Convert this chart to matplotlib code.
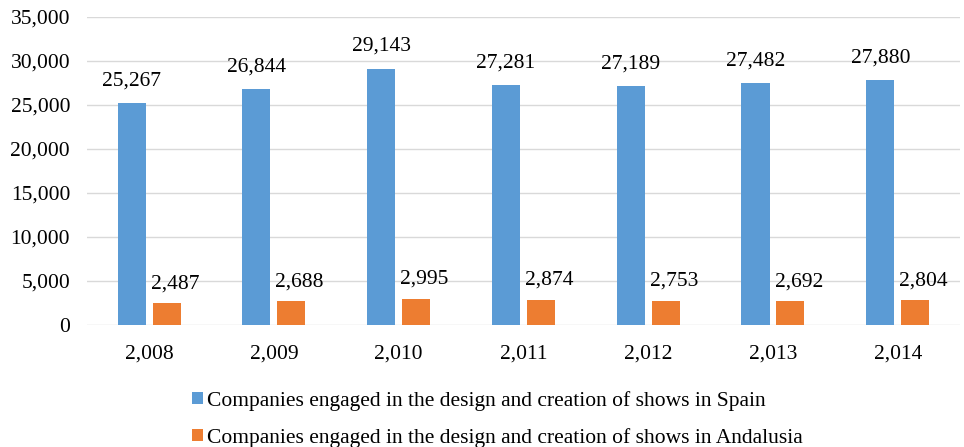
import matplotlib.pyplot as plt
import numpy as np

years = ['2,008', '2,009', '2,010', '2,011', '2,012', '2,013', '2,014']
spain = [25267, 26844, 29143, 27281, 27189, 27482, 27880]
andalusia = [2487, 2688, 2995, 2874, 2753, 2692, 2804]

plt.rcParams['font.family'] = ['Liberation Serif', 'DejaVu Serif']
fs = 15.5

fig = plt.figure(figsize=(9.64, 4.47), dpi=100)
ax = fig.add_axes([0.090, 0.273, 0.906, 0.689])

x = np.arange(len(years))
w = 0.225
b1 = ax.bar(x - 0.14, spain, w, color='#5B9BD5',
            label='Companies engaged in the design and creation of shows in Spain')
b2 = ax.bar(x + 0.14, andalusia, w, color='#ED7D31',
            label='Companies engaged in the design and creation of shows in Andalusia')

for rect, v in zip(b1, spain):
    ax.annotate(f'{v:,}', (rect.get_x() + rect.get_width() / 2, v),
                xytext=(0, 9), textcoords='offset points',
                ha='center', va='bottom', fontsize=fs)
for rect, v in zip(b2, andalusia):
    ax.annotate(f'{v:,}', (rect.get_x() + rect.get_width() / 2, v),
                xytext=(6, 7), textcoords='offset points',
                ha='center', va='bottom', fontsize=fs)

ax.set_xlim(-0.5, len(years) - 0.5)
ax.set_ylim(0, 35000)
ax.set_yticks(range(0, 35001, 5000))
ax.set_yticklabels([f'{t:,}' for t in range(0, 35001, 5000)])
ax.set_xticks(x)
ax.set_xticklabels(years)
ax.tick_params(axis='both', length=0, labelsize=fs)
ax.tick_params(axis='x', pad=14)
ax.tick_params(axis='y', pad=12)
ax.grid(axis='y', color='#D9D9D9', linewidth=1)
ax.set_axisbelow(True)
for s in ax.spines.values():
    s.set_visible(False)

fig.legend(loc='upper center', bbox_to_anchor=(0.516, 0.145), ncol=1,
           frameon=False, fontsize=fs, handlelength=0.5, handleheight=0.5,
           handletextpad=0.2, labelspacing=0.8, borderaxespad=0)

plt.savefig('out.png', dpi=100)
